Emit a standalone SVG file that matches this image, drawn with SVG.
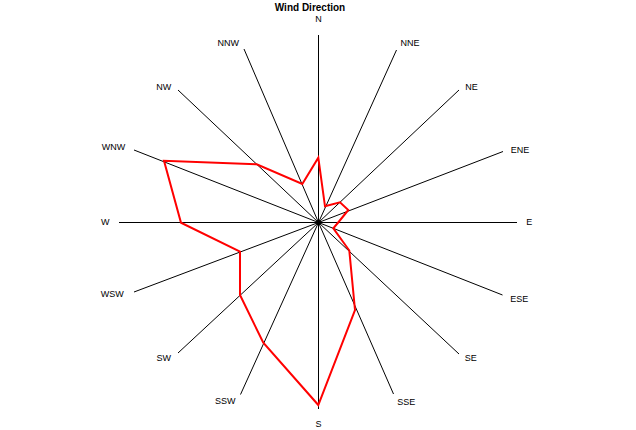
<svg xmlns="http://www.w3.org/2000/svg" width="636" height="430" viewBox="0 0 636 430">
<style>
.spoke{stroke:#000;stroke-width:1;fill:none}
.lbl{font-family:"Liberation Sans",Arial,sans-serif;font-size:9px;fill:#000;text-anchor:middle}
.title{font-family:"Liberation Sans",Arial,sans-serif;font-size:10px;font-weight:bold;fill:#000;text-anchor:middle}
.data{stroke:#ff0000;stroke-width:2;fill:none;stroke-linejoin:miter}
</style>
<rect width="636" height="430" fill="#fff"/>
<text class="title" x="310" y="11">Wind Direction</text>
<g id="spokes">
<line class="spoke" x1="318.5" y1="222.5" x2="318.5" y2="35"/>
<line class="spoke" x1="318.5" y1="222.5" x2="396.5" y2="50"/>
<line class="spoke" x1="318.5" y1="222.5" x2="459" y2="90"/>
<line class="spoke" x1="318.5" y1="222.5" x2="503" y2="151.5"/>
<line class="spoke" x1="318.5" y1="222.5" x2="517" y2="222.5"/>
<line class="spoke" x1="318.5" y1="222.5" x2="502.5" y2="295"/>
<line class="spoke" x1="318.5" y1="222.5" x2="459" y2="354"/>
<line class="spoke" x1="318.5" y1="222.5" x2="393.5" y2="394"/>
<line class="spoke" x1="318.5" y1="222.5" x2="318.5" y2="409"/>
<line class="spoke" x1="318.5" y1="222.5" x2="240.5" y2="394.5"/>
<line class="spoke" x1="318.5" y1="222.5" x2="178" y2="353"/>
<line class="spoke" x1="318.5" y1="222.5" x2="134" y2="292"/>
<line class="spoke" x1="318.5" y1="222.5" x2="119" y2="222.5"/>
<line class="spoke" x1="318.5" y1="222.5" x2="134" y2="150"/>
<line class="spoke" x1="318.5" y1="222.5" x2="178" y2="90"/>
<line class="spoke" x1="318.5" y1="222.5" x2="244" y2="49"/>
<circle cx="318.5" cy="222.5" r="2.5" fill="#000"/>
</g>
<g id="labels">
<text class="lbl" x="318.5" y="21.5">N</text>
<text class="lbl" x="410" y="46">NNE</text>
<text class="lbl" x="471.5" y="90">NE</text>
<text class="lbl" x="520" y="152.5">ENE</text>
<text class="lbl" x="529.2" y="224.5">E</text>
<text class="lbl" x="519.2" y="301.5">ESE</text>
<text class="lbl" x="470.8" y="361">SE</text>
<text class="lbl" x="406.2" y="405">SSE</text>
<text class="lbl" x="318.5" y="426.5">S</text>
<text class="lbl" x="225.3" y="403.5">SSW</text>
<text class="lbl" x="163.7" y="360.5">SW</text>
<text class="lbl" x="112.2" y="296.5">WSW</text>
<text class="lbl" x="105.2" y="225">W</text>
<text class="lbl" x="113.5" y="150">WNW</text>
<text class="lbl" x="163.7" y="90">NW</text>
<text class="lbl" x="228.3" y="46">NNW</text>
</g>
<g id="series">
<polygon class="data" points="318.3,157.7 325,206.3 340,202.3 348.3,210 338.6,222 333.3,228.3 349.3,250.5 355,310 318.3,405 263.3,342.7 240,295 240,251.7 181,222.7 164,160.7 256.7,164.3 302.3,184"/>
</g>
</svg>
